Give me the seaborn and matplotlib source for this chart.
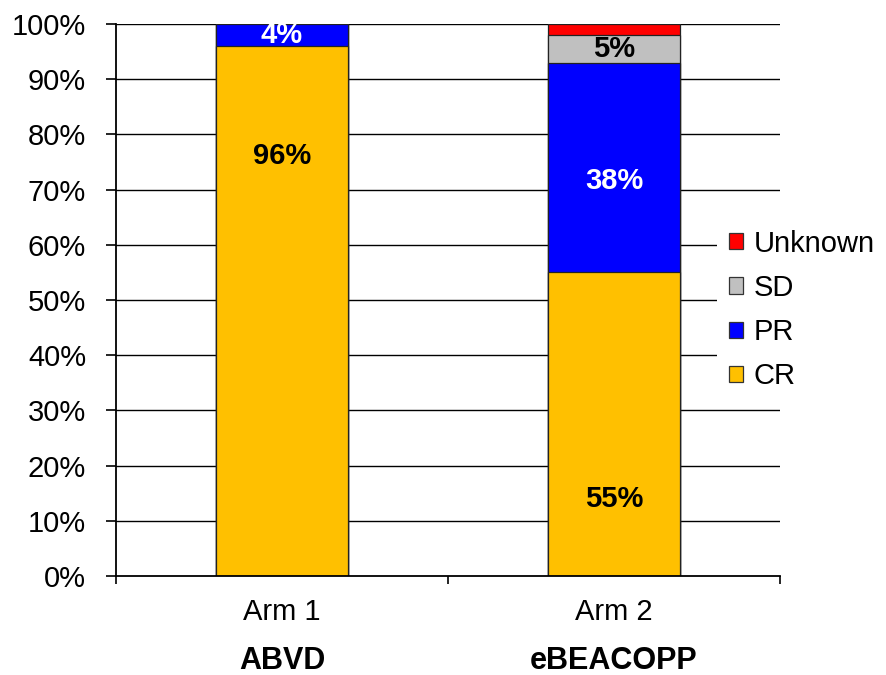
import matplotlib
matplotlib.use("Agg")
import matplotlib.pyplot as plt
import seaborn as sns
import pandas as pd
import numpy as np
from matplotlib.patches import Patch

# Response categories per treatment arm (percent of patients)
arms = ["Arm 1", "Arm 2"]
regimens = ["ABVD", "eBEACOPP"]
responses = ["CR", "PR", "SD", "Unknown"]
cr = [96, 55]
pr = [4, 38]
sd = [0, 5]
unknown = [0, 2]
colors = ["#FFC000", "#0000FF", "#C0C0C0", "#FF0000"]

sns.set_theme(style="white")
plt.rcParams["font.family"] = ["Liberation Sans", "DejaVu Sans"]
plt.rcParams["text.color"] = "black"
plt.rcParams["xtick.color"] = "black"
plt.rcParams["ytick.color"] = "black"

FS = 21

df = pd.DataFrame({"arm": arms, "CR": cr, "PR": pr, "SD": sd, "Unknown": unknown})
stack = df[responses].cumsum(axis=1)

fig = plt.figure(figsize=(8.86, 6.75), dpi=100)
ax = fig.add_axes([116 / 886, 1 - 576 / 675, (780 - 116) / 886, (576 - 24) / 675])

# Draw cumulative totals from the top layer down so each layer shows its own segment
for resp, col in zip(reversed(responses), reversed(colors)):
    sns.barplot(x=df["arm"], y=stack[resp], color=col, width=0.4,
                edgecolor="#222222", linewidth=0.9, saturation=1, ax=ax, zorder=3)

# Segment value labels
label_specs = [
    # (arm index, response, text colour, y position)
    (0, "CR", "black", 76),
    (0, "PR", "white", 98),
    (1, "CR", "black", 14),
    (1, "PR", "white", 71.5),
    (1, "SD", "black", 95.5),
]
for i, resp, tc, ypos in label_specs:
    val = df.loc[i, resp]
    ax.text(i, ypos, f"{val}%", ha="center", va="center", color=tc,
            fontsize=FS, fontweight="bold", zorder=5)

ax.set_ylim(0, 100)
ax.set_xlim(-0.5, 1.5)
ax.set_yticks(np.arange(0, 101, 10))
ax.set_yticklabels([f"{v}%" for v in range(0, 101, 10)], fontsize=FS)
for y in range(10, 101, 10):
    ax.axhline(y, color="black", linewidth=1.0, zorder=1)

ax.set_xticks([-0.5, 0.5, 1.5])
ax.set_xticklabels([])
ax.set_xticks([0, 1], minor=True)
ax.set_xticklabels(arms, minor=True, fontsize=FS)
ax.tick_params(axis="x", which="minor", bottom=False, length=0, pad=16)
ax.tick_params(axis="x", which="major", bottom=True, direction="out", length=6, width=1.2)
ax.tick_params(axis="y", left=True, direction="out", length=7.5, width=1.2, pad=14)
ax.set_xlabel("")
ax.set_ylabel("")

for side in ["top", "right"]:
    ax.spines[side].set_visible(False)
for side in ["left", "bottom"]:
    ax.spines[side].set_color("black")
    ax.spines[side].set_linewidth(1.3)
ax.spines["bottom"].set_zorder(6)

# Regimen names below the arm labels
for i, name in enumerate(regimens):
    ax.text(i, -0.1685, name, transform=ax.get_xaxis_transform(), ha="center", va="baseline",
            fontsize=22, fontweight="bold")

handles = [Patch(facecolor=c, edgecolor="#333333", linewidth=0.9, label=r)
           for r, c in zip(reversed(responses), reversed(colors))]
leg = fig.legend(handles=handles, loc="center left", bbox_to_anchor=(717 / 886, 1 - 310 / 675),
                 frameon=True, fontsize=FS, handlelength=0.5, handleheight=0.5,
                 handletextpad=0.35, labelspacing=0.56, borderaxespad=0, borderpad=0.4,
                 fancybox=False, framealpha=1)
leg.get_frame().set_facecolor("white")
leg.get_frame().set_edgecolor("none")
leg.set_zorder(10)

fig.savefig("out.png", dpi=100)
